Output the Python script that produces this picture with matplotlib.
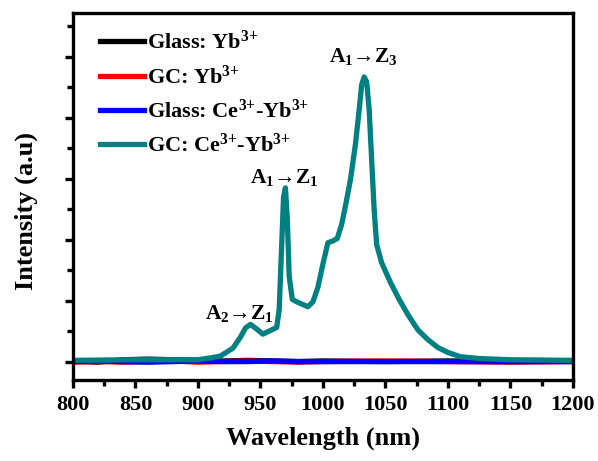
import matplotlib
matplotlib.use('Agg')
import matplotlib.pyplot as plt
from matplotlib.ticker import MultipleLocator, NullFormatter

# --- data (intensity in arbitrary units) ---
wl_gc_ceyb = [800, 850, 900, 910, 918, 928, 934, 938, 942, 946, 952, 957, 963, 965,
              967, 968.5, 970, 971.5, 973, 975.5, 980, 988, 992, 996, 1000, 1004,
              1008, 1011.5, 1015, 1018, 1022, 1026, 1029, 1031, 1033, 1035, 1037,
              1039, 1041, 1043, 1047, 1054, 1061, 1068, 1076, 1084, 1092, 1100,
              1110, 1125, 1150, 1200]
int_gc_ceyb = [0.02, 0.03, 0.03, 0.06, 0.09, 0.22, 0.40, 0.55, 0.61, 0.55, 0.45,
               0.50, 0.56, 0.85, 1.90, 2.70, 2.85, 2.35, 1.40, 1.02, 0.97, 0.90,
               0.98, 1.22, 1.60, 1.95, 1.98, 2.02, 2.25, 2.55, 2.98, 3.56, 4.13,
               4.54, 4.67, 4.59, 4.13, 3.31, 2.49, 1.92, 1.62, 1.30, 1.02, 0.77,
               0.52, 0.36, 0.23, 0.15, 0.08, 0.05, 0.03, 0.02]

wl_flat = [800, 820, 840, 860, 880, 900, 920, 940, 960, 980, 1000, 1050, 1100,
           1150, 1200]
int_glass_yb = [0.01, -0.01, 0.03, 0.04, 0.03, 0.02, 0.01, 0.02, 0.01, 0.0, 0.01,
                0.0, 0.01, 0.0, 0.01]
int_gc_yb = [-0.01, 0.0, -0.01, 0.0, 0.01, -0.01, 0.0, 0.01, 0.0, -0.01, 0.0,
             0.01, 0.0, -0.01, 0.0]
int_glass_ceyb = [0.0, 0.01, 0.0, -0.01, 0.0, 0.01, 0.0, 0.0, 0.01, 0.0, 0.0,
                  0.0, 0.0, 0.0, 0.0]

labels = [r'Glass: Yb$^{\mathregular{3{+}}}$', r'GC: Yb$^{\mathregular{3{+}}}$',
          r'Glass: Ce$^{\mathregular{3{+}}}$-Yb$^{\mathregular{3{+}}}$',
          r'GC: Ce$^{\mathregular{3{+}}}$-Yb$^{\mathregular{3{+}}}$']
colors = ['#000000', '#ff0000', '#0000ff', '#008080']

plt.rcParams['font.family'] = ['Liberation Serif', 'DejaVu Serif']
plt.rcParams['font.weight'] = 'bold'
plt.rcParams['mathtext.fontset'] = 'custom'
plt.rcParams['mathtext.rm'] = 'Liberation Serif:bold'
plt.rcParams['mathtext.it'] = 'Liberation Serif:bold'
plt.rcParams['mathtext.bf'] = 'Liberation Serif:bold'

fig = plt.figure(figsize=(5.98, 4.61), dpi=100)
ax = fig.add_axes([0.122, 0.176, 0.836, 0.796])

ax.plot(wl_flat, int_glass_yb, color=colors[0], lw=3.8, label=labels[0])
ax.plot(wl_flat, int_gc_yb, color=colors[1], lw=3.8, label=labels[1])
ax.plot(wl_flat, int_glass_ceyb, color=colors[2], lw=3.8, label=labels[2])
ax.plot(wl_gc_ceyb, int_gc_ceyb, color=colors[3], lw=3.8, label=labels[3])

ax.set_xlim(800, 1200)
ax.set_ylim(-0.3, 5.72)
ax.xaxis.set_major_locator(MultipleLocator(50))
ax.xaxis.set_minor_locator(MultipleLocator(25))
ax.yaxis.set_major_locator(MultipleLocator(1))
ax.yaxis.set_minor_locator(MultipleLocator(0.5))
ax.yaxis.set_major_formatter(NullFormatter())

for s in ax.spines.values():
    s.set_linewidth(2.4)
ax.tick_params(which='major', direction='out', length=6, width=2.4, labelsize=16,
               pad=5)
ax.tick_params(which='minor', direction='out', length=4, width=2.4)
ax.tick_params(axis='x', which='both', top=False)

ax.set_xlabel('Wavelength (nm)', fontsize=19, fontweight='bold', labelpad=8)
ax.set_ylabel('Intensity (a.u)', fontsize=19, fontweight='bold')
ax.yaxis.set_label_coords(-0.07, 0.46)

ax.legend(loc='upper left', frameon=False, fontsize=16, handlelength=2.0,
          handletextpad=0.1, labelspacing=0.5, borderaxespad=0.0,
          bbox_to_anchor=(0.036, 0.975))

ax.text(1032, 4.84, r'A$_{\mathregular{1}}$→Z$_{\mathregular{3}}$', ha='center',
        va='bottom', fontsize=15.5, fontweight='bold')
ax.text(969, 2.85, r'A$_{\mathregular{1}}$→Z$_{\mathregular{1}}$', ha='center',
        va='bottom', fontsize=15.5, fontweight='bold')
ax.text(933, 0.62, r'A$_{\mathregular{2}}$→Z$_{\mathregular{1}}$', ha='center',
        va='bottom', fontsize=15.5, fontweight='bold')

fig.savefig('out.png', dpi=100)
